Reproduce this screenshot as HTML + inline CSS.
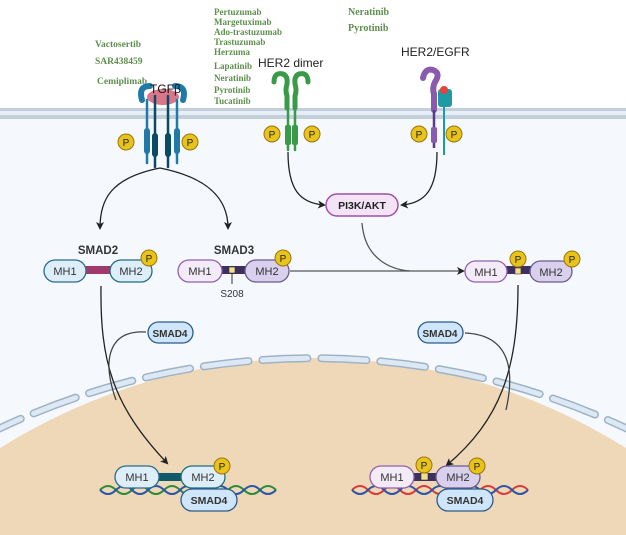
<!DOCTYPE html>
<html><head><meta charset="utf-8"><style>html,body{margin:0;width:626px;height:535px;overflow:hidden}svg{display:block}</style></head><body>
<svg width="626" height="535" viewBox="0 0 626 535" xmlns="http://www.w3.org/2000/svg" font-family="Liberation Sans, sans-serif" overflow="hidden">
<defs>
<marker id="ah" markerWidth="8" markerHeight="8" refX="6" refY="4" orient="auto" markerUnits="userSpaceOnUse"><path d="M0,0 L8,4 L0,8 L2,4z" fill="#222"/></marker>
<clipPath id="frame"><rect x="0" y="0" width="626" height="535"/></clipPath>
</defs>
<rect width="626" height="535" fill="#fff"/>
<rect x="0" y="117" width="626" height="418" fill="#f5f9fd"/>
<rect x="0" y="108" width="626" height="11" fill="#c3cfdb"/>
<rect x="0" y="111" width="626" height="4" fill="#e6eef6"/>
<path d="M0,535 L0,448 A589,589 0 0 1 626,448 L626,535 Z" fill="#efd8b8"/>
<g clip-path="url(#frame)">
<path d="M-20,438 A735,735 0 0 1 646,438" fill="none" stroke="#9fb3c6" stroke-width="8" stroke-dasharray="45,14" stroke-linecap="round"/>
<path d="M-20,438 A735,735 0 0 1 646,438" fill="none" stroke="#dce8f4" stroke-width="5" stroke-dasharray="45,14" stroke-linecap="round"/>
</g>

<g font-family="Liberation Serif, serif" font-weight="bold" fill="#5e8f4e" font-size="9">
<text x="95" y="47" font-size="9.5">Vactosertib</text>
<text x="95" y="64" font-size="9.5">SAR438459</text>
<text x="97" y="84" font-size="9.5">Cemiplimab</text>
<text x="214" y="15">Pertuzumab</text>
<text x="214" y="25">Margetuximab</text>
<text x="214" y="35">Ado-trastuzumab</text>
<text x="214" y="45">Trastuzumab</text>
<text x="214" y="55">Herzuma</text>
<text x="214" y="69">Lapatinib</text>
<text x="214" y="81">Neratinib</text>
<text x="214" y="93">Pyrotinib</text>
<text x="214" y="104">Tucatinib</text>
<text x="348" y="15" font-size="10">Neratinib</text>
<text x="348" y="31" font-size="10">Pyrotinib</text>
</g>
<text x="258" y="67" font-size="12" fill="#222">HER2 dimer</text>
<text x="401" y="56" font-size="12" fill="#222">HER2/EGFR</text>

<g stroke-linecap="round">
<path d="M142,100 q-4,-14 8,-14 M183,100 q4,-14 -8,-14" stroke="#1f7aa8" stroke-width="6" fill="none"/>
<ellipse cx="163" cy="97" rx="16" ry="8" fill="#d9768a"/>
<line x1="147" y1="100" x2="147" y2="163" stroke="#1f7aa8" stroke-width="2.5"/>
<line x1="177" y1="100" x2="177" y2="163" stroke="#1f7aa8" stroke-width="2.5"/>
<line x1="155" y1="96" x2="155" y2="167" stroke="#0b4a63" stroke-width="2.5"/>
<line x1="168" y1="96" x2="168" y2="167" stroke="#0b4a63" stroke-width="2.5"/>
<rect x="144" y="128" width="6" height="26" rx="3" fill="#1f7aa8"/>
<rect x="174" y="128" width="6" height="26" rx="3" fill="#1f7aa8"/>
<rect x="152" y="133" width="6" height="24" rx="3" fill="#0b4a63"/>
<rect x="165" y="133" width="6" height="24" rx="3" fill="#0b4a63"/>
</g>
<text x="150" y="93" font-size="12" fill="#111">TGFβ</text>

<g stroke="#3a9a48" fill="none" stroke-linecap="round">
<path d="M274,82 q0,-10 9,-8 q5,2 4,10 q-2,6 0,12 v12" stroke-width="5"/>
<path d="M308,82 q0,-10 -9,-8 q-5,2 -4,10 q2,6 0,12 v12" stroke-width="5"/>
<line x1="288" y1="105" x2="288" y2="150" stroke-width="2.5"/>
<line x1="295" y1="105" x2="295" y2="150" stroke-width="2.5"/>
<rect x="285" y="125" width="6" height="20" rx="2" fill="#3a9a48" stroke="none"/>
<rect x="292" y="125" width="6" height="20" rx="2" fill="#3a9a48" stroke="none"/>
</g>
<path d="M423,78 q2,-10 10,-8 q8,3 2,12 q-3,6 -1,12 v16" stroke="#8a5ab0" stroke-width="6" fill="none" stroke-linecap="round"/>
<line x1="434" y1="110" x2="434" y2="148" stroke="#5a3a86" stroke-width="2.5"/>
<rect x="431" y="127" width="6" height="16" rx="2" fill="#8a5ab0"/>
<rect x="438" y="89" width="14" height="18" rx="3" fill="#1c9aa5"/>
<line x1="444" y1="107" x2="444" y2="155" stroke="#1c9aa5" stroke-width="2"/>
<circle cx="444" cy="90" r="4" fill="#e8403a"/>

<g font-size="10" text-anchor="middle">
<g fill="#e8c41a" stroke="#9a7410" stroke-width="1">
<circle cx="126" cy="142" r="8"/><circle cx="190" cy="142" r="8"/>
<circle cx="272" cy="134" r="8"/><circle cx="312" cy="134" r="8"/>
<circle cx="419" cy="134" r="8"/><circle cx="454" cy="134" r="8"/>
</g>
<g fill="#222"><text x="126" y="146">P</text><text x="190" y="146">P</text><text x="272" y="138">P</text><text x="312" y="138">P</text><text x="419" y="138">P</text><text x="454" y="138">P</text></g>
</g>

<g fill="none" stroke="#222" stroke-width="1.3">
<path d="M160,168 C110,178 100,200 100,228" marker-end="url(#ah)"/>
<path d="M160,168 C210,178 228,200 228,228" marker-end="url(#ah)"/>
<path d="M288,152 C288,190 300,203 324,205" marker-end="url(#ah)"/>
<path d="M437,152 C437,190 425,203 402,205" marker-end="url(#ah)"/>
<path d="M362,223 C365,262 395,270 410,271" stroke="#555"/>
<path d="M290,271 L463,271" stroke="#555" marker-end="url(#ah)"/>
<path d="M101,286 C100,360 112,405 167,463" marker-end="url(#ah)"/>
<path d="M146,332 C112,330 100,355 116,400" stroke="#444"/>
<path d="M518,285 C518,370 500,420 447,465" marker-end="url(#ah)"/>
<path d="M465,333 C510,335 515,370 506,410" stroke="#444"/>
</g>

<rect x="326" y="194" width="72" height="22" rx="11" fill="#f3e3f5" stroke="#a050a8" stroke-width="1.5"/>
<text x="362" y="209" font-size="10.5" font-weight="bold" text-anchor="middle" fill="#222">PI3K/AKT</text>

<g font-size="11" text-anchor="middle" fill="#333">
<text x="98" y="254" font-weight="bold" font-size="11.5">SMAD2</text>
<text x="234" y="254" font-weight="bold" font-size="11.5">SMAD3</text>
<rect x="80" y="266" width="36" height="8" fill="#a03a6c"/>
<rect x="44" y="260" width="42" height="22" rx="11" fill="#ddeef8" stroke="#2c6a8f" stroke-width="1.3"/>
<rect x="110" y="260" width="42" height="22" rx="11" fill="#ddeef8" stroke="#1f6d7e" stroke-width="1.3"/>
<text x="65" y="275">MH1</text><text x="131" y="275">MH2</text>
<rect x="214" y="266" width="40" height="8" fill="#3d3060"/>
<rect x="178" y="260" width="44" height="22" rx="11" fill="#f3ebf8" stroke="#9060b0" stroke-width="1.3"/>
<rect x="245" y="260" width="44" height="22" rx="11" fill="#d8d0ec" stroke="#6a5a90" stroke-width="1.3"/>
<rect x="229" y="267" width="6" height="6" fill="#f3e08a" stroke="#333" stroke-width=".6"/>
<line x1="232" y1="273" x2="232" y2="284" stroke="#333"/>
<text x="200" y="275">MH1</text><text x="267" y="275">MH2</text>
<text x="232" y="297" font-size="10">S208</text>
<rect x="500" y="266" width="40" height="8" fill="#3d3060"/>
<rect x="465" y="261" width="42" height="21" rx="10.5" fill="#f3ebf8" stroke="#9060b0" stroke-width="1.3"/>
<rect x="530" y="261" width="42" height="21" rx="10.5" fill="#d8d0ec" stroke="#6a5a90" stroke-width="1.3"/>
<rect x="515" y="268" width="6" height="6" fill="#f3e08a" stroke="#333" stroke-width=".6"/>
<text x="486" y="276">MH1</text><text x="551" y="276">MH2</text>
<rect x="148" y="322" width="45" height="21" rx="10.5" fill="#cfe6fa" stroke="#2a5a8a" stroke-width="1.3"/>
<text x="170" y="337" font-weight="bold" font-size="10">SMAD4</text>
<rect x="418" y="322" width="45" height="21" rx="10.5" fill="#cfe6fa" stroke="#2a5a8a" stroke-width="1.3"/>
<text x="440" y="337" font-weight="bold" font-size="10">SMAD4</text>

<g fill="none" stroke-width="2">
<path d="M100,490 q8,-8 16,0 t16,0 t16,0 t16,0 t16,0 t16,0 t16,0 t16,0 t16,0 t16,0 t16,0" stroke="#2a8a3a"/>
<path d="M100,490 q8,8 16,0 t16,0 t16,0 t16,0 t16,0 t16,0 t16,0 t16,0 t16,0 t16,0 t16,0" stroke="#2a55a8"/>
<path d="M352,490 q8,-8 16,0 t16,0 t16,0 t16,0 t16,0 t16,0 t16,0 t16,0 t16,0 t16,0 t16,0" stroke="#d83a3a"/>
<path d="M352,490 q8,8 16,0 t16,0 t16,0 t16,0 t16,0 t16,0 t16,0 t16,0 t16,0 t16,0 t16,0" stroke="#2a55a8"/>
</g>
<rect x="150" y="473" width="40" height="8" fill="#0e5a6a"/>
<rect x="115" y="466" width="44" height="22" rx="11" fill="#ddeef8" stroke="#2c6a8f" stroke-width="1.3"/>
<rect x="181" y="466" width="44" height="22" rx="11" fill="#ddeef8" stroke="#1f6d7e" stroke-width="1.3"/>
<text x="137" y="481">MH1</text><text x="203" y="481">MH2</text>
<rect x="181" y="489" width="56" height="22" rx="11" fill="#cfe6fa" stroke="#2a5a8a" stroke-width="1.3"/>
<text x="209" y="504" font-weight="bold" font-size="10.5">SMAD4</text>
<rect x="405" y="473" width="40" height="8" fill="#3d3060"/>
<rect x="370" y="466" width="44" height="22" rx="11" fill="#f3ebf8" stroke="#9060b0" stroke-width="1.3"/>
<rect x="436" y="466" width="44" height="22" rx="11" fill="#d8d0ec" stroke="#6a5a90" stroke-width="1.3"/>
<rect x="421" y="473" width="7" height="7" fill="#f3e08a" stroke="#333" stroke-width=".6"/>
<text x="392" y="481">MH1</text><text x="458" y="481">MH2</text>
<rect x="437" y="489" width="56" height="22" rx="11" fill="#cfe6fa" stroke="#2a5a8a" stroke-width="1.3"/>
<text x="465" y="504" font-weight="bold" font-size="10.5">SMAD4</text>
</g>

<g font-size="10" text-anchor="middle">
<g fill="#e8c41a" stroke="#9a7410" stroke-width="1">
<circle cx="149" cy="258" r="8"/><circle cx="283" cy="258" r="8"/>
<circle cx="518" cy="259" r="8"/><circle cx="572" cy="259" r="8"/>
<circle cx="222" cy="466" r="8"/><circle cx="424" cy="465" r="8"/><circle cx="477" cy="466" r="8"/>
</g>
<g fill="#222"><text x="149" y="262">P</text><text x="283" y="262">P</text><text x="518" y="263">P</text><text x="572" y="263">P</text><text x="222" y="470">P</text><text x="424" y="469">P</text><text x="477" y="470">P</text></g>
</g>
</svg>
</body></html>
